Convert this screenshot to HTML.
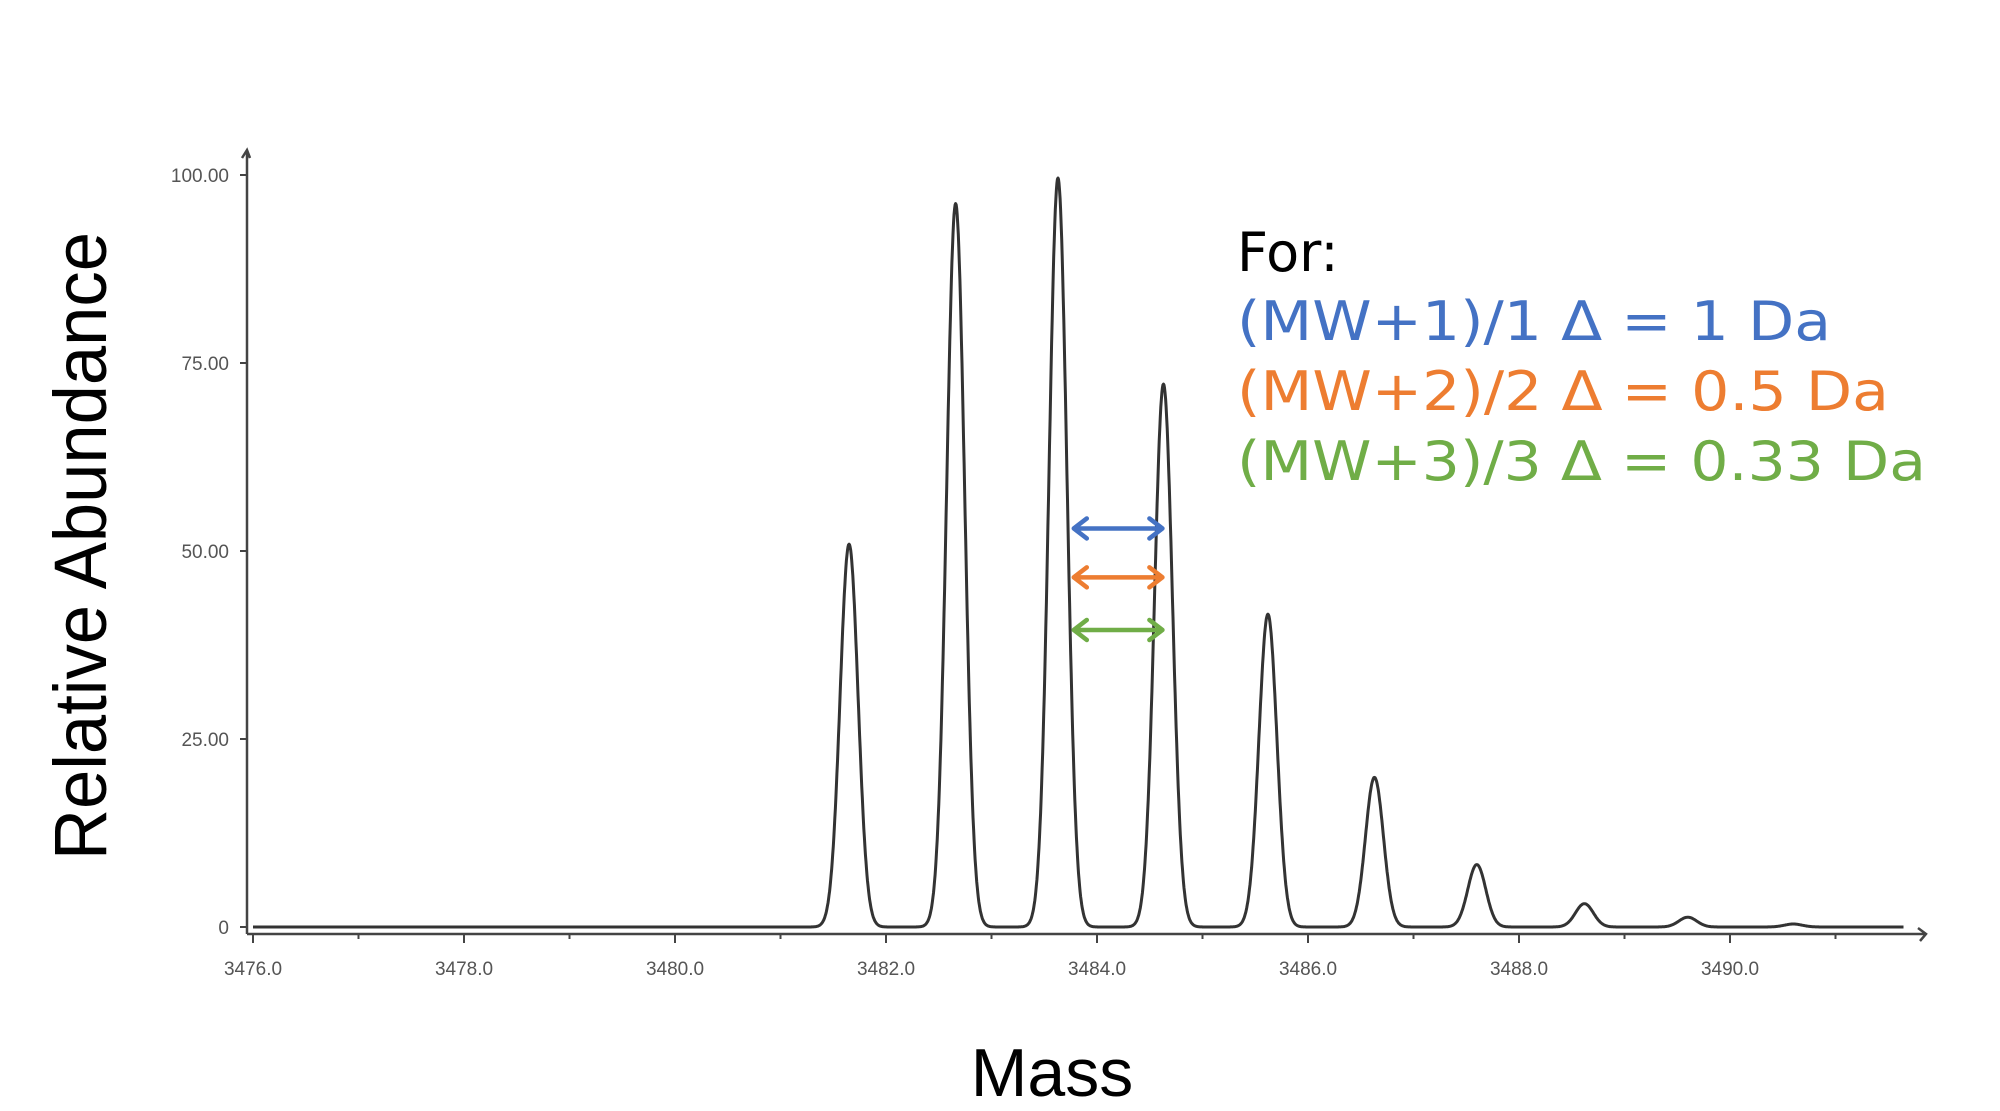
<!DOCTYPE html>
<html><head><meta charset="utf-8"><style>
html,body{margin:0;padding:0;background:#fff;}
svg{display:block;}
</style></head><body>
<svg id="chart" width="2000" height="1111" viewBox="0 0 2000 1111" xmlns="http://www.w3.org/2000/svg">
<g id="axes"></g>
<g id="plot"></g>
<text x="80" y="546" transform="rotate(-90 80 546)" text-anchor="middle" font-family="Liberation Sans, sans-serif" font-size="74" textLength="628" lengthAdjust="spacingAndGlyphs" fill="#000" dy="26">Relative Abundance</text>
<text x="1052" y="1096" text-anchor="middle" font-family="Liberation Sans, sans-serif" font-size="68" fill="#000">Mass</text>
<g font-family="DejaVu Sans, Liberation Sans, sans-serif" font-size="54">
<text x="1237" y="271" fill="#000">For:</text>
<text x="1237" y="340" fill="#4472c4" textLength="594" lengthAdjust="spacingAndGlyphs">(MW+1)/1 Δ = 1 Da</text>
<text x="1237" y="410" fill="#ed7d31" textLength="652" lengthAdjust="spacingAndGlyphs">(MW+2)/2 Δ = 0.5 Da</text>
<text x="1237" y="480" fill="#70ad47" textLength="689" lengthAdjust="spacingAndGlyphs">(MW+3)/3 Δ = 0.33 Da</text>
</g>
<g id="arrows"></g>
</svg>
<script>
const peakMasses = [3481.65, 3482.66, 3483.63, 3484.63, 3485.62, 3486.63, 3487.60, 3488.62, 3489.60, 3490.60];
const peakHeights = [50.9, 96.2, 99.6, 72.2, 41.6, 19.9, 8.3, 3.1, 1.3, 0.4];
const xTicks = [3476, 3478, 3480, 3482, 3484, 3486, 3488, 3490];
const xTickLabels = ["3476.0","3478.0","3480.0","3482.0","3484.0","3486.0","3488.0","3490.0"];
const yTicks = [0, 25, 50, 75, 100];
const yTickLabels = ["0","25.00","50.00","75.00","100.00"];
const arrowSpan = [3483.78, 3484.62];
const arrowColors = ["#4472c4", "#ed7d31", "#70ad47"];
const arrowLevels = [53, 46.5, 39.5];

const NS = "http://www.w3.org/2000/svg";
const X = m => 253 + (m - 3476) * 105.5;
const Y = v => 927 - v * 7.52;
function mk(tag, attrs, parent){const e=document.createElementNS(NS,tag);for(const k in attrs)e.setAttribute(k,attrs[k]);parent.appendChild(e);return e;}
const axes=document.getElementById('axes'), plot=document.getElementById('plot'), arrows=document.getElementById('arrows');

let a=mk('path',{d:'M247 150 L247 934 M247 934 L1925 934 M1918 928 L1926 934 L1920 941 M242 158 L247 150 L250 158',stroke:'#444','stroke-width':2.5,fill:'none'},axes);


yTicks.forEach((v,i)=>{
  const t=mk('line',{x1:240,x2:247,y1:Y(v),y2:Y(v),stroke:'#444','stroke-width':2},axes);
  
  
  const l=mk('text',{x:229,y:Y(v)+7,'text-anchor':'end','font-family':'Liberation Sans, sans-serif','font-size':19,fill:'#555'},axes);
  l.textContent=yTickLabels[i];
  
  
});
for(let m=3476;m<=3491;m++){
  const major=xTicks.includes(m);
  const t=mk('line',{x1:X(m),x2:X(m),y1:934,y2:major?943:939,stroke:'#444','stroke-width':2},axes);
  
  
}
xTicks.forEach((m,i)=>{
  const l=mk('text',{x:X(m),y:975,'text-anchor':'middle','font-family':'Liberation Sans, sans-serif','font-size':19,fill:'#555'},axes);
  l.textContent=xTickLabels[i];
  
  
});

const sigma=0.085;
let d='';
for(let m=3476; m<=3491.65; m+=0.005){
  let v=0;
  peakMasses.forEach((p,i)=>{const z=(m-p)/sigma; v+=peakHeights[i]*Math.exp(-0.5*z*z);});
  d+=(d?'L':'M')+X(m).toFixed(1)+' '+Y(v).toFixed(1)+' ';
}
const sp=mk('path',{d:d,fill:'none',stroke:'#333','stroke-width':3,'stroke-linejoin':'round'},plot);



arrowLevels.forEach((lv,i)=>{
  const x1=X(arrowSpan[0]), x2=X(arrowSpan[1]), y=Y(lv);
  const p=mk('path',{d:`M${x1} ${y} L${x2} ${y} M${x1+13} ${y-10} L${x1} ${y} L${x1+13} ${y+10} M${x2-13} ${y-10} L${x2} ${y} L${x2-13} ${y+10}`,stroke:arrowColors[i],'stroke-width':4.5,fill:'none','stroke-linecap':'round','stroke-linejoin':'round'},arrows);
  
  
});
</script>
</body></html>
